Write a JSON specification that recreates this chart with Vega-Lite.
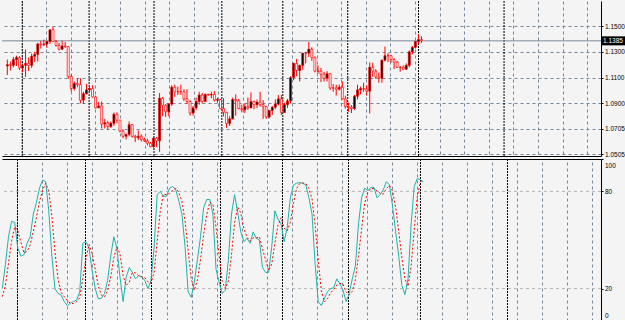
{
  "$schema": "https://vega.github.io/schema/vega-lite/v6.json",
  "padding": 0,
  "background": "#f4f4f4",
  "spacing": 0,
  "config": {
    "view": {"stroke": null},
    "font": "Liberation Sans",
    "axis": {
      "labelFont": "Liberation Sans", "labelFontSize": 6.5, "labelColor": "#000000", "labelOverlap": false,
      "domainColor": "#000000", "tickColor": "#000000", "tickSize": 2, "labelPadding": 1.5, "tickCount": 100,
      "title": null, "gridColor": "#778899", "gridDash": [3, 3], "gridOpacity": 1, "gridWidth": 1
    }
  },
  "datasets": {
    "bars": [
      {"i":0,"o":1.1190,"h":1.1240,"l":1.1120,"c":1.1200,"k":20,"s":15},
      {"i":1,"o":1.1200,"h":1.1225,"l":1.1155,"c":1.1195,"k":35,"s":22},
      {"i":2,"o":1.1195,"h":1.1260,"l":1.1180,"c":1.1240,"k":52,"s":35.7},
      {"i":3,"o":1.1240,"h":1.1270,"l":1.1190,"c":1.1255,"k":61.5,"s":49.5},
      {"i":4,"o":1.1255,"h":1.1265,"l":1.1160,"c":1.1175,"k":60.9,"s":58.1},
      {"i":5,"o":1.1175,"h":1.1200,"l":1.1140,"c":1.1195,"k":45,"s":55.8},
      {"i":6,"o":1.1195,"h":1.1318,"l":1.1105,"c":1.1210,"k":40,"s":48.6},
      {"i":7,"o":1.1210,"h":1.1255,"l":1.1150,"c":1.1195,"k":41,"s":42},
      {"i":8,"o":1.1195,"h":1.1285,"l":1.1175,"c":1.1265,"k":48,"s":43},
      {"i":9,"o":1.1265,"h":1.1300,"l":1.1220,"c":1.1280,"k":52,"s":47},
      {"i":10,"o":1.1280,"h":1.1370,"l":1.1225,"c":1.1360,"k":66,"s":55.3},
      {"i":11,"o":1.1360,"h":1.1385,"l":1.1325,"c":1.1355,"k":73,"s":63.7},
      {"i":12,"o":1.1355,"h":1.1395,"l":1.1345,"c":1.1360,"k":82,"s":73.7},
      {"i":13,"o":1.1360,"h":1.1385,"l":1.1330,"c":1.1380,"k":87,"s":80.7},
      {"i":14,"o":1.1380,"h":1.1475,"l":1.1360,"c":1.1470,"k":86,"s":85},
      {"i":15,"o":1.1470,"h":1.1495,"l":1.1380,"c":1.1380,"k":68,"s":80.3},
      {"i":16,"o":1.1380,"h":1.1390,"l":1.1340,"c":1.1350,"k":40,"s":64.7},
      {"i":17,"o":1.1350,"h":1.1370,"l":1.1310,"c":1.1320,"k":20,"s":42.7},
      {"i":18,"o":1.1320,"h":1.1385,"l":1.1315,"c":1.1345,"k":17,"s":25.7},
      {"i":19,"o":1.1345,"h":1.1375,"l":1.1330,"c":1.1340,"k":16,"s":17.7},
      {"i":20,"o":1.1340,"h":1.1345,"l":1.1090,"c":1.1110,"k":12,"s":15},
      {"i":21,"o":1.1110,"h":1.1125,"l":1.0990,"c":1.1015,"k":9.5,"s":12.5},
      {"i":22,"o":1.1015,"h":1.1070,"l":1.1000,"c":1.1055,"k":11,"s":10.8},
      {"i":23,"o":1.1055,"h":1.1095,"l":1.1025,"c":1.1045,"k":12,"s":10.8},
      {"i":24,"o":1.1045,"h":1.1095,"l":1.0900,"c":1.0925,"k":13,"s":12},
      {"i":25,"o":1.0925,"h":1.0990,"l":1.0895,"c":1.0975,"k":18,"s":14.3},
      {"i":26,"o":1.0975,"h":1.1050,"l":1.0970,"c":1.1005,"k":48,"s":26.3},
      {"i":27,"o":1.1005,"h":1.1030,"l":1.0985,"c":1.1015,"k":49,"s":38.3},
      {"i":28,"o":1.1015,"h":1.1040,"l":1.0945,"c":1.0950,"k":45,"s":47.3},
      {"i":29,"o":1.0950,"h":1.0960,"l":1.0860,"c":1.0865,"k":31,"s":41.7},
      {"i":30,"o":1.0865,"h":1.0910,"l":1.0865,"c":1.0880,"k":20,"s":32},
      {"i":31,"o":1.0880,"h":1.0915,"l":1.0705,"c":1.0740,"k":13.6,"s":21.5},
      {"i":32,"o":1.0740,"h":1.0780,"l":1.0705,"c":1.0750,"k":14,"s":15.9},
      {"i":33,"o":1.0750,"h":1.0765,"l":1.0695,"c":1.0720,"k":17,"s":14.9},
      {"i":34,"o":1.0720,"h":1.0760,"l":1.0710,"c":1.0745,"k":25,"s":18.7},
      {"i":35,"o":1.0745,"h":1.0830,"l":1.0725,"c":1.0815,"k":40,"s":27.3},
      {"i":36,"o":1.0815,"h":1.0830,"l":1.0745,"c":1.0770,"k":52,"s":39},
      {"i":37,"o":1.0770,"h":1.0770,"l":1.0675,"c":1.0685,"k":45,"s":45.7},
      {"i":38,"o":1.0685,"h":1.0700,"l":1.0630,"c":1.0645,"k":27,"s":41.3},
      {"i":39,"o":1.0645,"h":1.0665,"l":1.0620,"c":1.0660,"k":12,"s":28},
      {"i":40,"o":1.0660,"h":1.0760,"l":1.0645,"c":1.0735,"k":27,"s":22},
      {"i":41,"o":1.0735,"h":1.0740,"l":1.0635,"c":1.0645,"k":33,"s":24},
      {"i":42,"o":1.0645,"h":1.0655,"l":1.0600,"c":1.0635,"k":30,"s":30},
      {"i":43,"o":1.0635,"h":1.0690,"l":1.0615,"c":1.0645,"k":26,"s":29.7},
      {"i":44,"o":1.0645,"h":1.0660,"l":1.0605,"c":1.0620,"k":28,"s":28},
      {"i":45,"o":1.0620,"h":1.0635,"l":1.0600,"c":1.0610,"k":27.5,"s":27.2},
      {"i":46,"o":1.0610,"h":1.0625,"l":1.0575,"c":1.0590,"k":25,"s":26.8},
      {"i":47,"o":1.0590,"h":1.0600,"l":1.0560,"c":1.0565,"k":20,"s":24.2},
      {"i":48,"o":1.0565,"h":1.0640,"l":1.0555,"c":1.0630,"k":25,"s":23.3},
      {"i":49,"o":1.0630,"h":1.0640,"l":1.0560,"c":1.0610,"k":45,"s":30},
      {"i":50,"o":1.0610,"h":1.0980,"l":1.0524,"c":1.0940,"k":78,"s":49.3},
      {"i":51,"o":1.0940,"h":1.0950,"l":1.0800,"c":1.0885,"k":80,"s":67.7},
      {"i":52,"o":1.0885,"h":1.0895,"l":1.0795,"c":1.0835,"k":77,"s":78.3},
      {"i":53,"o":1.0835,"h":1.0900,"l":1.0800,"c":1.0895,"k":77,"s":78},
      {"i":54,"o":1.0895,"h":1.1040,"l":1.0880,"c":1.1025,"k":82,"s":78.7},
      {"i":55,"o":1.1025,"h":1.1045,"l":1.0950,"c":1.0990,"k":83,"s":80.7},
      {"i":56,"o":1.0990,"h":1.1030,"l":1.0965,"c":1.0990,"k":81,"s":82},
      {"i":57,"o":1.0990,"h":1.1045,"l":1.0965,"c":1.0990,"k":74,"s":79.3},
      {"i":58,"o":1.0990,"h":1.1010,"l":1.0920,"c":1.0935,"k":66,"s":73.7},
      {"i":59,"o":1.0935,"h":1.1010,"l":1.0895,"c":1.0915,"k":46,"s":62},
      {"i":60,"o":1.0915,"h":1.0925,"l":1.0805,"c":1.0825,"k":18,"s":43.3},
      {"i":61,"o":1.0825,"h":1.0880,"l":1.0805,"c":1.0865,"k":14.6,"s":26.2},
      {"i":62,"o":1.0865,"h":1.0945,"l":1.0850,"c":1.0915,"k":24,"s":18.9},
      {"i":63,"o":1.0915,"h":1.0990,"l":1.0890,"c":1.0965,"k":38,"s":25.5},
      {"i":64,"o":1.0965,"h":1.0980,"l":1.0900,"c":1.0915,"k":52,"s":38},
      {"i":65,"o":1.0915,"h":1.0975,"l":1.0910,"c":1.0970,"k":70,"s":53.3},
      {"i":66,"o":1.0970,"h":1.0975,"l":1.0960,"c":1.0965,"k":75,"s":65.7},
      {"i":67,"o":1.0965,"h":1.0990,"l":1.0940,"c":1.0970,"k":75,"s":73.3},
      {"i":68,"o":1.0970,"h":1.0995,"l":1.0915,"c":1.0925,"k":66,"s":72},
      {"i":69,"o":1.0925,"h":1.0945,"l":1.0905,"c":1.0930,"k":32,"s":57.7},
      {"i":70,"o":1.0930,"h":1.0935,"l":1.0855,"c":1.0860,"k":24,"s":40.7},
      {"i":71,"o":1.0860,"h":1.0940,"l":1.0800,"c":1.0830,"k":17,"s":24.3},
      {"i":72,"o":1.0830,"h":1.0835,"l":1.0710,"c":1.0745,"k":19,"s":20},
      {"i":73,"o":1.0745,"h":1.0800,"l":1.0725,"c":1.0780,"k":38,"s":24.7},
      {"i":74,"o":1.0780,"h":1.0945,"l":1.0775,"c":1.0930,"k":66,"s":41},
      {"i":75,"o":1.0930,"h":1.0970,"l":1.0805,"c":1.0920,"k":78,"s":60.7},
      {"i":76,"o":1.0920,"h":1.0935,"l":1.0855,"c":1.0860,"k":67,"s":70.3},
      {"i":77,"o":1.0860,"h":1.0890,"l":1.0830,"c":1.0850,"k":55,"s":66.7},
      {"i":78,"o":1.0850,"h":1.0900,"l":1.0825,"c":1.0875,"k":49,"s":57},
      {"i":79,"o":1.0875,"h":1.0945,"l":1.0850,"c":1.0865,"k":51,"s":51.7},
      {"i":80,"o":1.0865,"h":1.0985,"l":1.0865,"c":1.0915,"k":48,"s":49.3},
      {"i":81,"o":1.0915,"h":1.0920,"l":1.0855,"c":1.0890,"k":55,"s":51.3},
      {"i":82,"o":1.0890,"h":1.0930,"l":1.0865,"c":1.0910,"k":51,"s":51.3},
      {"i":83,"o":1.0910,"h":1.0990,"l":1.0875,"c":1.0890,"k":50,"s":52},
      {"i":84,"o":1.0890,"h":1.0925,"l":1.0780,"c":1.0875,"k":33,"s":44.7},
      {"i":85,"o":1.0875,"h":1.0880,"l":1.0780,"c":1.0795,"k":30,"s":37.7},
      {"i":86,"o":1.0795,"h":1.0850,"l":1.0785,"c":1.0845,"k":30,"s":31},
      {"i":87,"o":1.0845,"h":1.0880,"l":1.0810,"c":1.0870,"k":46,"s":35.3},
      {"i":88,"o":1.0870,"h":1.0930,"l":1.0855,"c":1.0895,"k":68,"s":48},
      {"i":89,"o":1.0895,"h":1.0965,"l":1.0885,"c":1.0935,"k":63,"s":59},
      {"i":90,"o":1.0935,"h":1.0965,"l":1.0810,"c":1.0830,"k":60,"s":63.7},
      {"i":91,"o":1.0830,"h":1.0905,"l":1.0830,"c":1.0890,"k":49,"s":57.3},
      {"i":92,"o":1.0890,"h":1.0935,"l":1.0865,"c":1.0920,"k":58,"s":55.7},
      {"i":93,"o":1.0920,"h":1.1110,"l":1.0900,"c":1.1100,"k":76,"s":61},
      {"i":94,"o":1.1100,"h":1.1215,"l":1.1080,"c":1.1210,"k":84,"s":72.7},
      {"i":95,"o":1.1210,"h":1.1245,"l":1.1110,"c":1.1155,"k":85,"s":81.7},
      {"i":96,"o":1.1155,"h":1.1200,"l":1.1070,"c":1.1195,"k":85.5,"s":84.8},
      {"i":97,"o":1.1195,"h":1.1290,"l":1.1160,"c":1.1290,"k":85,"s":85.2},
      {"i":98,"o":1.1290,"h":1.1300,"l":1.1210,"c":1.1290,"k":84,"s":84.8},
      {"i":99,"o":1.1290,"h":1.1376,"l":1.1260,"c":1.1320,"k":76,"s":81.7},
      {"i":100,"o":1.1320,"h":1.1335,"l":1.1230,"c":1.1255,"k":66,"s":75.3},
      {"i":101,"o":1.1255,"h":1.1265,"l":1.1140,"c":1.1150,"k":35,"s":59},
      {"i":102,"o":1.1150,"h":1.1195,"l":1.1130,"c":1.1150,"k":12,"s":37.7},
      {"i":103,"o":1.1150,"h":1.1175,"l":1.1065,"c":1.1125,"k":9.5,"s":18.8},
      {"i":104,"o":1.1125,"h":1.1145,"l":1.1070,"c":1.1095,"k":14,"s":11.8},
      {"i":105,"o":1.1095,"h":1.1150,"l":1.1070,"c":1.1130,"k":18,"s":13.8},
      {"i":106,"o":1.1130,"h":1.1135,"l":1.1005,"c":1.1020,"k":20,"s":17.3},
      {"i":107,"o":1.1020,"h":1.1050,"l":1.0990,"c":1.1020,"k":20.5,"s":19.5},
      {"i":108,"o":1.1020,"h":1.1045,"l":1.0960,"c":1.1010,"k":26,"s":22.2},
      {"i":109,"o":1.1010,"h":1.1045,"l":1.1000,"c":1.1025,"k":23,"s":23.2},
      {"i":110,"o":1.1025,"h":1.1070,"l":1.0930,"c":1.0935,"k":19,"s":22.7},
      {"i":111,"o":1.0935,"h":1.0960,"l":1.0860,"c":1.0875,"k":12,"s":18},
      {"i":112,"o":1.0875,"h":1.0905,"l":1.0835,"c":1.0870,"k":17,"s":16},
      {"i":113,"o":1.0870,"h":1.0885,"l":1.0825,"c":1.0860,"k":26,"s":18.3},
      {"i":114,"o":1.0860,"h":1.0965,"l":1.0850,"c":1.0955,"k":34,"s":25.7},
      {"i":115,"o":1.0955,"h":1.1045,"l":1.0930,"c":1.1005,"k":60,"s":40},
      {"i":116,"o":1.1005,"h":1.1030,"l":1.0970,"c":1.1015,"k":76,"s":56.7},
      {"i":117,"o":1.1015,"h":1.1060,"l":1.0990,"c":1.1010,"k":82,"s":72.7},
      {"i":118,"o":1.1010,"h":1.1040,"l":1.0960,"c":1.0995,"k":80.5,"s":79.5},
      {"i":119,"o":1.0995,"h":1.1218,"l":1.0822,"c":1.1180,"k":82.5,"s":81.7},
      {"i":120,"o":1.1180,"h":1.1215,"l":1.1105,"c":1.1150,"k":82.5,"s":81.8},
      {"i":121,"o":1.1150,"h":1.1165,"l":1.1090,"c":1.1105,"k":76,"s":80.3},
      {"i":122,"o":1.1105,"h":1.1140,"l":1.1060,"c":1.1095,"k":78,"s":78.8},
      {"i":123,"o":1.1095,"h":1.1240,"l":1.1060,"c":1.1235,"k":81,"s":78.3},
      {"i":124,"o":1.1235,"h":1.1340,"l":1.1225,"c":1.1270,"k":86,"s":81.7},
      {"i":125,"o":1.1270,"h":1.1290,"l":1.1220,"c":1.1270,"k":84,"s":83.7},
      {"i":126,"o":1.1270,"h":1.1275,"l":1.1215,"c":1.1240,"k":71,"s":80.3},
      {"i":127,"o":1.1240,"h":1.1250,"l":1.1165,"c":1.1220,"k":55,"s":70},
      {"i":128,"o":1.1220,"h":1.1230,"l":1.1175,"c":1.1180,"k":40,"s":55.3},
      {"i":129,"o":1.1180,"h":1.1190,"l":1.1145,"c":1.1180,"k":22,"s":39},
      {"i":130,"o":1.1180,"h":1.1195,"l":1.1160,"c":1.1165,"k":16.3,"s":26.1},
      {"i":131,"o":1.1165,"h":1.1210,"l":1.1160,"c":1.1195,"k":26,"s":21.4},
      {"i":132,"o":1.1195,"h":1.1310,"l":1.1180,"c":1.1300,"k":60,"s":34.1},
      {"i":133,"o":1.1300,"h":1.1345,"l":1.1280,"c":1.1335,"k":83,"s":56.3},
      {"i":134,"o":1.1335,"h":1.1385,"l":1.1325,"c":1.1380,"k":88,"s":77},
      {"i":135,"o":1.1380,"h":1.1438,"l":1.1360,"c":1.1395,"k":87,"s":86},
      {"i":136,"o":1.1395,"h":1.1420,"l":1.1370,"c":1.1385,"k":86,"s":87}
    ],
    "seps": [{"i":4.9045},{"i":26.8597},{"i":48.1693},{"i":70.4474},{"i":90.4654},{"i":111.7749},{"i":135.0216},{"i":163.1114}],
    "levels": [{"v":20},{"v":80}],
    "last": [{"p":1.1385,"label":"1.1385"}]
  },
  "vconcat": [
    {
      "width": 599,
      "height": 155,
      "data": {"name": "bars"},
      "layer": [
        {
          "data": {"name": "seps"},
          "mark": {"type": "rule", "color": "#000000", "strokeDash": [2, 1], "strokeWidth": 1},
          "encoding": {
            "x": {"field": "i", "type": "quantitative",
              "scale": {"domain": [-0.1, 193.3], "nice": false, "zero": false},
              "axis": {"orient": "bottom", "tickCount": 100, "values": [4.7431,12.8149,20.8867,28.9584,37.0302,45.102,53.1738,61.2456,69.3173,77.3891,85.4609,93.5327,101.6045,109.6762,117.748,125.8198,133.8916,141.9634,150.0351,158.1069,166.1787,174.2505,182.3223,190.394],
                "labels": false, "ticks": false, "domain": true, "grid": true}}
          }
        },
        {
          "data": {"name": "last"},
          "mark": {"type": "rule", "color": "#778899", "strokeWidth": 1},
          "encoding": {
            "y": {"field": "p", "type": "quantitative",
              "scale": {"domain": [1.0492, 1.1694], "nice": false, "zero": false},
              "axis": {"orient": "right", "tickCount": 100, "values": [1.0505, 1.0705, 1.09, 1.11, 1.13, 1.15], "format": ".4f", "grid": true, "domain": true}}
          }
        },
        {
          "mark": {"type": "rule", "color": "#ff0000", "strokeWidth": 1},
          "encoding": {
            "x": {"field": "i", "type": "quantitative"},
            "y": {"field": "l", "type": "quantitative"},
            "y2": {"field": "h"}
          }
        },
        {
          "mark": {"type": "bar", "width": 2, "stroke": "#ff0000", "strokeWidth": 0.7},
          "encoding": {
            "x": {"field": "i", "type": "quantitative"},
            "y": {"field": "o", "type": "quantitative"},
            "y2": {"field": "c"},
            "fill": {"condition": {"test": "datum.c >= datum.o", "value": "#000000"}, "value": "#ffffff"}
          }
        },
        {
          "data": {"name": "last"},
          "mark": {"type": "rect", "color": "#000000", "clip": false, "x2Offset": 26, "yOffset": -4.5, "y2Offset": 4.5},
          "encoding": {
            "x": {"value": "width"},
            "x2": {"value": "width"},
            "y": {"field": "p", "type": "quantitative"},
            "y2": {"field": "p"}
          }
        },
        {
          "data": {"name": "last"},
          "mark": {"type": "text", "color": "#ffffff", "align": "left", "baseline": "middle", "dx": 2, "fontSize": 6.5, "font": "Liberation Sans", "clip": false},
          "encoding": {
            "x": {"value": "width"},
            "y": {"field": "p", "type": "quantitative"},
            "text": {"field": "label"}
          }
        }
      ]
    },
    {
      "width": 599,
      "height": 162,
      "data": {"name": "bars"},
      "layer": [
        {
          "data": {"name": "seps"},
          "mark": {"type": "rule", "color": "#000000", "strokeDash": [2, 1], "strokeWidth": 1},
          "encoding": {
            "x": {"field": "i", "type": "quantitative",
              "scale": {"domain": [-0.1, 193.3], "nice": false, "zero": false},
              "axis": {"orient": "top", "tickCount": 100, "values": [4.7431,12.8149,20.8867,28.9584,37.0302,45.102,53.1738,61.2456,69.3173,77.3891,85.4609,93.5327,101.6045,109.6762,117.748,125.8198,133.8916,141.9634,150.0351,158.1069,166.1787,174.2505,182.3223,190.394],
                "labels": false, "ticks": false, "domain": true, "grid": true}}
          }
        },
        {
          "data": {"name": "levels"},
          "mark": {"type": "rule", "color": "#b4b4b4", "strokeDash": [3, 3], "strokeWidth": 1},
          "encoding": {
            "y": {"field": "v", "type": "quantitative",
              "scale": {"domain": [0, 100], "nice": false, "zero": false},
              "axis": {"orient": "right", "tickCount": 100, "values": [0, 20, 80, 100], "format": "d", "grid": false, "labelFlush": true, "labelFlushOffset": -3, "domain": true}}
          }
        },
        {
          "mark": {"type": "line", "color": "#20b2aa", "strokeWidth": 1},
          "encoding": {
            "x": {"field": "i", "type": "quantitative"},
            "y": {"field": "k", "type": "quantitative"}
          }
        },
        {
          "mark": {"type": "line", "color": "#ff0000", "strokeWidth": 1, "strokeDash": [2, 2]},
          "encoding": {
            "x": {"field": "i", "type": "quantitative"},
            "y": {"field": "s", "type": "quantitative"}
          }
        }
      ]
    }
  ]
}
